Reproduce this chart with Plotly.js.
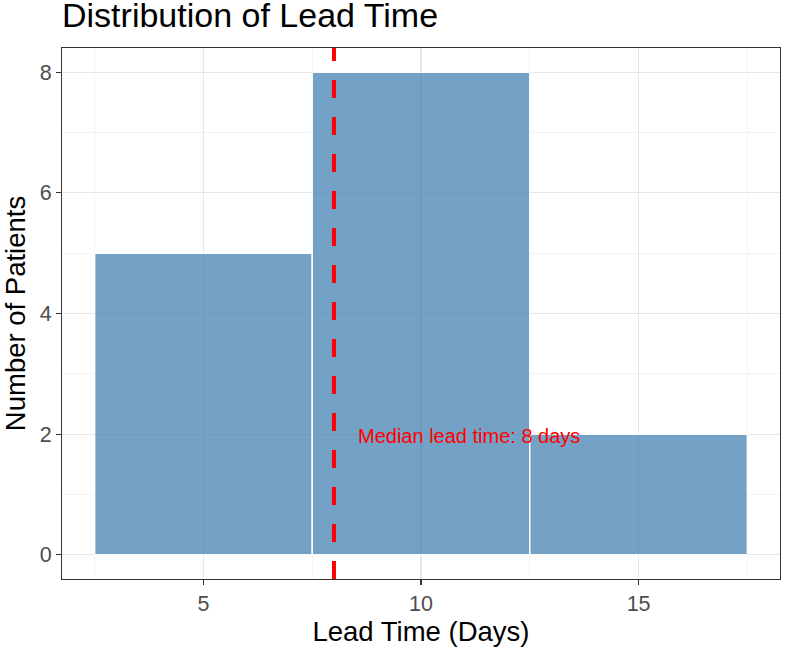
<!DOCTYPE html>
<html>
<head>
<meta charset="utf-8">
<script src="https://cdn.plot.ly/plotly-3.0.1.min.js"></script>
<style>html,body{margin:0;padding:0;background:#fff;}#chart{width:785px;height:650px;}</style>
</head>
<body>
<div id="chart"></div>
<script>
var binCenters = [5, 10, 15];
var patientCounts = [5, 8, 2];
var binWidth = 5;
var medianLeadTime = 8;
var xTickVals = [5, 10, 15];
var yTickVals = [0, 2, 4, 6, 8];

var trace = {
  type: 'bar',
  x: binCenters,
  y: patientCounts,
  width: binCenters.map(function(){return binWidth;}),
  marker: {color: 'rgb(70,130,180)', opacity: 0.75, line: {color: '#ffffff', width: 1.5}},
  hoverinfo: 'x+y'
};

var fontFam = '"Liberation Sans", Arial, Helvetica, sans-serif';

var layout = {
  width: 785, height: 650,
  margin: {l: 62, r: 5, t: 48, b: 71},
  paper_bgcolor: '#ffffff', plot_bgcolor: '#ffffff',
  showlegend: false,
  bargap: 0,
  font: {family: fontFam},
  title: {text: 'Distribution of Lead Time', x: 62/785, xanchor: 'left', xref: 'container', y: 1, yref: 'container', yanchor: 'top', pad: {t: 3}, font: {size: 34, color: '#000000', family: fontFam}},
  xaxis: {
    range: [1.75, 18.25],
    tickvals: xTickVals,
    ticks: 'outside', ticklen: 5, tickwidth: 1.1, tickcolor: '#333333',
    tickfont: {size: 21.5, color: '#4d4d4d'},
    showgrid: true, gridcolor: '#e6e6e6', gridwidth: 1.2,
    minor: {tickvals: [2.5, 7.5, 12.5, 17.5], showgrid: true, gridcolor: '#ebebeb', gridwidth: 0.6, ticks: ''},
    showline: true, linecolor: '#333333', linewidth: 1.1, mirror: true,
    zeroline: false,
    title: {text: 'Lead Time (Days)', font: {size: 27.5, color: '#000000'}, standoff: 4}
  },
  yaxis: {
    range: [-0.4, 8.4],
    tickvals: yTickVals,
    ticks: 'outside', ticklen: 5, tickwidth: 1.1, tickcolor: '#333333',
    tickfont: {size: 21.5, color: '#4d4d4d'},
    showgrid: true, gridcolor: '#e6e6e6', gridwidth: 1.2,
    minor: {tickvals: [1, 3, 5, 7], showgrid: true, gridcolor: '#ebebeb', gridwidth: 0.6, ticks: ''},
    showline: true, linecolor: '#333333', linewidth: 1.1, mirror: true,
    zeroline: false,
    title: {text: 'Number of Patients', font: {size: 27.5, color: '#000000'}, standoff: 6}
  },
  shapes: [{
    type: 'line', xref: 'x', yref: 'paper', x0: medianLeadTime, x1: medianLeadTime, y0: 0, y1: 1,
    line: {color: '#ff0000', width: 4, dash: '18px,19px'}, layer: 'above'
  }],
  annotations: [{
    x: medianLeadTime + 0.5, y: 2, xref: 'x', yref: 'y',
    text: 'Median lead time: ' + medianLeadTime + ' days',
    showarrow: false, xanchor: 'left', yanchor: 'middle', yshift: -2,
    font: {size: 20, color: '#ff0000'}
  }]
};

Plotly.newPlot('chart', [trace], layout, {displayModeBar: false, staticPlot: true});
</script>
</body>
</html>
